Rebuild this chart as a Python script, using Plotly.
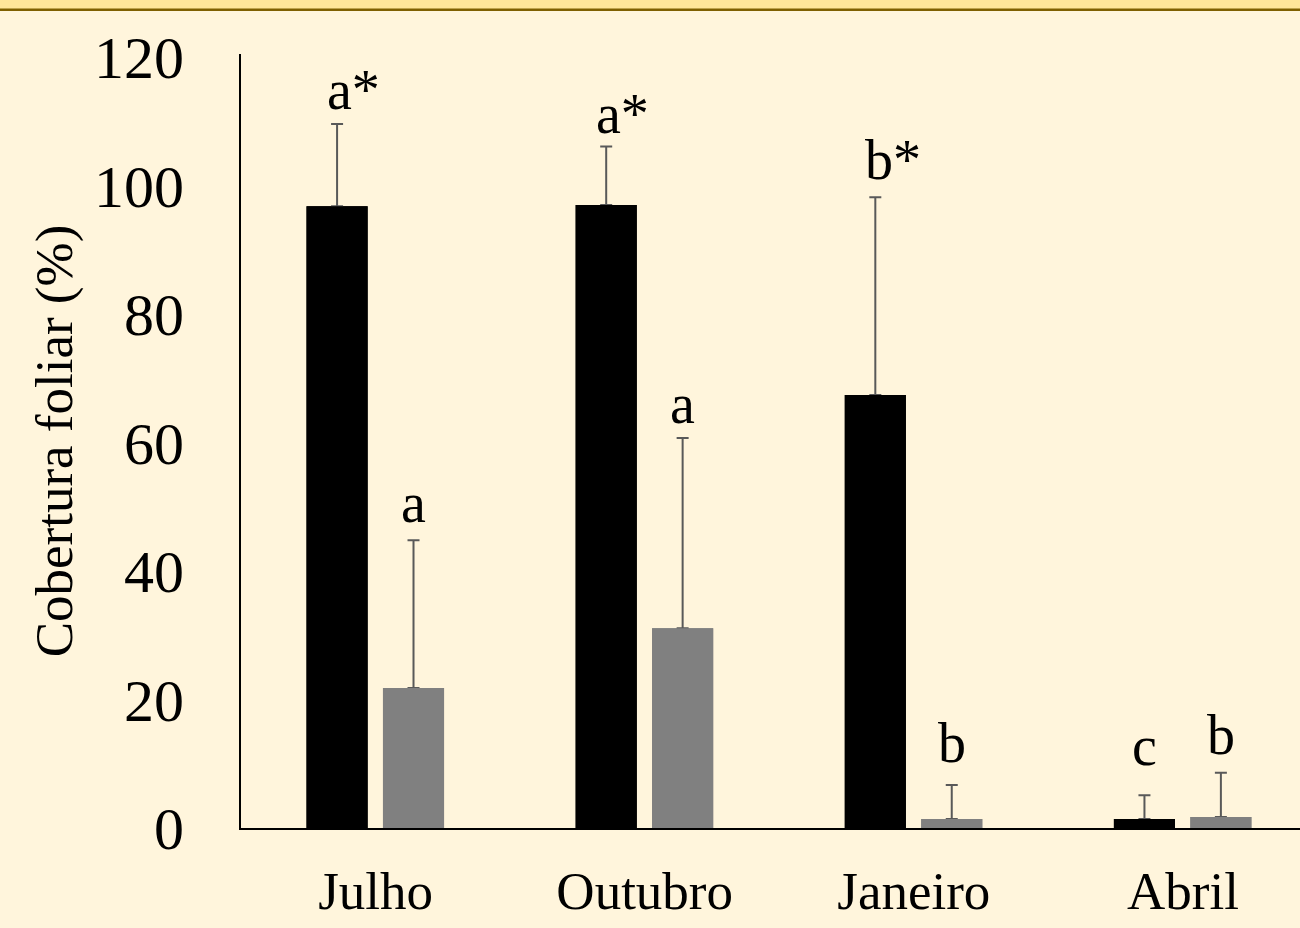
import plotly.graph_objects as go

months = ["Julho", "Outubro", "Janeiro", "Abril"]
serie_preta = [96.8, 97.0, 67.4, 1.4]
erro_preta = [12.8, 9.1, 30.8, 3.7]
serie_cinza = [21.8, 31.1, 1.4, 1.7]
erro_cinza = [23.0, 29.6, 5.3, 6.9]
letras_preta = ["a*", "a*", "b*", "c"]
letras_cinza = ["a", "a", "b", "b"]
# baseline heights of the significance letters (data units)
altura_letra_preta = [112.2, 108.5, 101.3, 10.1]
altura_letra_cinza = [47.9, 63.3, 10.6, 11.8]
y_ticks = [0, 20, 40, 60, 80, 100, 120]

FONT = "Liberation Serif, Times New Roman, serif"
BG = "#FFF5DC"
xpos = list(range(len(months)))
W = 0.227
OFF_B = -0.2565
OFF_G = 0.0275

fig = go.Figure()
for vals, errs, off, col in ((serie_preta, erro_preta, OFF_B, "#000000"),
                             (serie_cinza, erro_cinza, OFF_G, "#808080")):
    fig.add_trace(go.Bar(
        x=xpos, y=vals, width=W, offset=off,
        marker=dict(color=col, line=dict(width=0)),
        error_y=dict(type="data", array=errs, symmetric=False,
                     arrayminus=[0] * len(vals),
                     color="#595959", thickness=2, width=6),
        showlegend=False, hoverinfo="skip"))
# same bars again on top so that only the upward whisker shows
for vals, off, col in ((serie_preta, OFF_B, "#000000"),
                       (serie_cinza, OFF_G, "#808080")):
    fig.add_trace(go.Bar(
        x=xpos, y=vals, width=W, offset=off,
        marker=dict(color=col, line=dict(width=0)),
        showlegend=False))

anns = []
for i in xpos:
    for txt, yb, off in ((letras_preta[i], altura_letra_preta[i], OFF_B),
                         (letras_cinza[i], altura_letra_cinza[i], OFF_G)):
        cx = i + off + W / 2
        star = txt.endswith("*")
        anns.append(dict(
            x=cx, y=yb, xref="x", yref="y", text=txt, showarrow=False,
            xanchor="left" if star else "center", yanchor="bottom",
            xshift=-12.5 if star else 0, yshift=-16,
            font=dict(family=FONT, size=56, color="#000000")))

fig.update_layout(
    width=1300, height=928,
    barmode="overlay",
    margin=dict(l=241, r=0, t=54, b=100),
    paper_bgcolor=BG, plot_bgcolor=BG,
    font=dict(family=FONT, color="#000000"),
    annotations=anns,
    shapes=[
        dict(type="rect", xref="paper", yref="paper", x0=-0.3, x1=1.01,
             ysizemode="pixel", yanchor=1, y0=45, y1=60,
             fillcolor="#FFE699", line=dict(width=0), layer="above"),
        dict(type="rect", xref="paper", yref="paper", x0=-0.3, x1=1.01,
             ysizemode="pixel", yanchor=1, y0=43, y1=45.5,
             fillcolor="#7F6000", line=dict(width=0), layer="above"),
    ],
)
fig.update_xaxes(
    range=[-0.5, 3.435], tickvals=xpos, ticktext=months,
    showline=True, linecolor="#000000", linewidth=2, ticks="",
    showgrid=False, zeroline=False, ticklabelstandoff=15,
    tickfont=dict(family=FONT, size=53, color="#000000"))
fig.update_yaxes(
    range=[0, 120.5], tickvals=y_ticks, ticks="",
    showline=True, linecolor="#000000", linewidth=2,
    showgrid=False, zeroline=False, ticklabelstandoff=43,
    tickfont=dict(family=FONT, size=60, color="#000000"),
    title=dict(text="Cobertura foliar (%)", standoff=4,
               font=dict(family=FONT, size=53, color="#000000")))

fig.write_html(
    "out.html",
    config={"displayModeBar": False},
    post_script="document.body.style.margin='0';document.body.style.overflow='hidden';",
)
